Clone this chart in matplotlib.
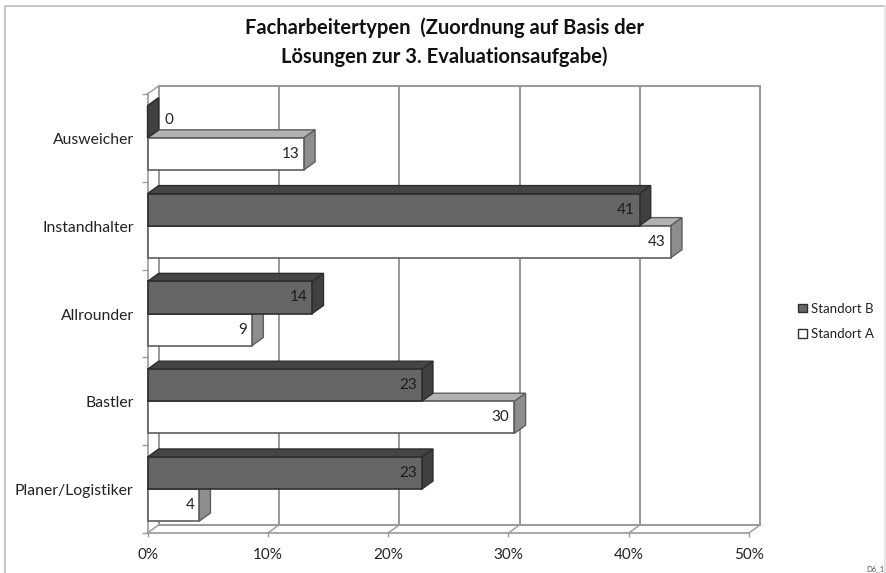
import matplotlib
matplotlib.use("Agg")
import matplotlib.pyplot as plt
from matplotlib.lines import Line2D
from matplotlib.patches import Patch, Polygon
from matplotlib.transforms import ScaledTranslation

plt.rcParams["font.family"] = ["Lato", "DejaVu Sans"]

CATEGORIES = ["Ausweicher", "Instandhalter", "Allrounder", "Bastler", "Planer/Logistiker"]
STANDORT_B = [0.0, 40.9, 13.7, 22.8, 22.8]
STANDORT_A = [13.0, 43.5, 8.7, 30.5, 4.3]
LABELS_B = ["0", "41", "14", "23", "23"]
LABELS_A = ["13", "43", "9", "30", "4"]
X_TICKS = [0, 10, 20, 30, 40, 50]

DX = 0.93    # depth of the 3d effect, in x units
DY = -0.092  # same in category units (y axis is inverted)
BAR = 0.365
GRID = "#999999"


def bar3d(ax, y0, y1, value, front, top, side, edge):
    top_face = [(0, y0), (value, y0), (value + DX, y0 + DY), (DX, y0 + DY)]
    side_face = [(value, y0), (value, y1), (value + DX, y1 + DY), (value + DX, y0 + DY)]
    ax.add_patch(Polygon(top_face, fc=top, ec=edge, lw=1.0, clip_on=False, zorder=3))
    ax.add_patch(Polygon(side_face, fc=side, ec=edge, lw=1.0, clip_on=False, zorder=3))
    if value > 0:
        ax.fill([0, value, value, 0], [y0, y0, y1, y1], fc=front, ec=edge, lw=1.2,
                clip_on=False, zorder=3)


fig = plt.figure(figsize=(8.86, 5.73), dpi=100)
ax = fig.add_axes([147.5 / 886, 40 / 573, 601.5 / 886, 439 / 573])
ax.set_xlim(0, 50)
ax.set_ylim(5, 0)
for spine in ax.spines.values():
    spine.set_visible(False)

# frame of the pasted chart: no bottom edge, right edge paler
fig.add_artist(Line2D([4.5 / 886, 4.5 / 886, 885 / 886], [0, 1 - 5.5 / 573, 1 - 5.5 / 573],
                      color="#bdbdbd", lw=1.2))
fig.add_artist(Line2D([885 / 886, 885 / 886], [0, 1 - 5.5 / 573], color="#e2e2e2", lw=1.2))

# back wall, floor and left wall
for x in X_TICKS:
    ax.plot([x + DX, x + DX], [DY, 5 + DY], color=GRID, lw=1.4, clip_on=False, zorder=1)
    ax.plot([x, x + DX], [5, 5 + DY], color=GRID, lw=1.0, clip_on=False, zorder=1)
ax.plot([DX, 50 + DX], [DY, DY], color=GRID, lw=1.4, clip_on=False, zorder=1)
ax.plot([DX, 50 + DX], [5 + DY, 5 + DY], color=GRID, lw=1.4, clip_on=False, zorder=1)
ax.plot([0, DX], [0, DY], color=GRID, lw=1.0, clip_on=False, zorder=1)
ax.plot([0, 0], [0, 5], color=GRID, lw=1.2, clip_on=False, zorder=1)
ax.plot([0, 50], [5, 5], color=GRID, lw=1.2, clip_on=False, zorder=1)

for i in range(len(CATEGORIES)):
    mid = i + 0.5
    bar3d(ax, mid, mid + BAR, STANDORT_A[i], "white", "#b2b2b2", "#8e8e8e", "#5e5e5e")
    bar3d(ax, mid - BAR, mid, STANDORT_B[i], "#666666", "#454545", "#404040", "#2e2e2e")

    ax.text(STANDORT_A[i] - 0.4, mid + BAR / 2, LABELS_A[i], ha="right", va="center",
            fontsize=11, color="#222222", zorder=5)
    if STANDORT_B[i] > 0:
        ax.text(STANDORT_B[i] - 0.4, mid - BAR / 2, LABELS_B[i], ha="right", va="center",
                fontsize=11, color="#1c1c1c", zorder=5)
    else:
        ax.text(1.4, mid - BAR / 2 - 0.02, LABELS_B[i], ha="left", va="center",
                fontsize=11, color="#222222", zorder=5)

ax.set_xticks(X_TICKS)
ax.set_xticklabels([f"{x}%" for x in X_TICKS], fontsize=11, color="#222222")
ax.tick_params(axis="x", length=3, width=1.0, color=GRID, pad=8)
ax.set_yticks([i + 0.5 for i in range(5)])
ax.set_yticklabels(CATEGORIES, fontsize=11.3, color="#222222", va="center")
ax.tick_params(axis="y", which="major", length=0, pad=10)
ax.set_yticks(range(6), minor=True)
ax.tick_params(axis="y", which="minor", length=4, width=1.0, color=GRID)

# category labels sit a little lower than the axis centre
down = ScaledTranslation(0, -2 / 100, fig.dpi_scale_trans)
for label in ax.get_yticklabels():
    label.set_transform(label.get_transform() + down)

fig.text(444.5 / 886, 1 - 42.5 / 573, "Facharbeitertypen  (Zuordnung auf Basis der\nLösungen zur 3. Evaluationsaufgabe)",
         ha="center", va="center", fontsize=14.5, fontweight="bold", color="#111111", linespacing=1.5)

handles = [Patch(fc="#666666", ec="#2e2e2e", lw=1.0, label="Standort B"),
           Patch(fc="white", ec="#2e2e2e", lw=1.0, label="Standort A")]
fig.legend(handles=handles, loc="center left", bbox_to_anchor=(798 / 886, 1 - 321.5 / 573),
           frameon=False, fontsize=9.5, handlelength=0.65, handleheight=0.65, handletextpad=0.35,
           labelspacing=1.05, borderpad=0, borderaxespad=0, labelcolor="#222222")

fig.text(866 / 886, 1 - 569 / 573, "D6_1", ha="left", va="center", fontsize=5.5, color="#555555")

fig.savefig("out.png", dpi=100)
